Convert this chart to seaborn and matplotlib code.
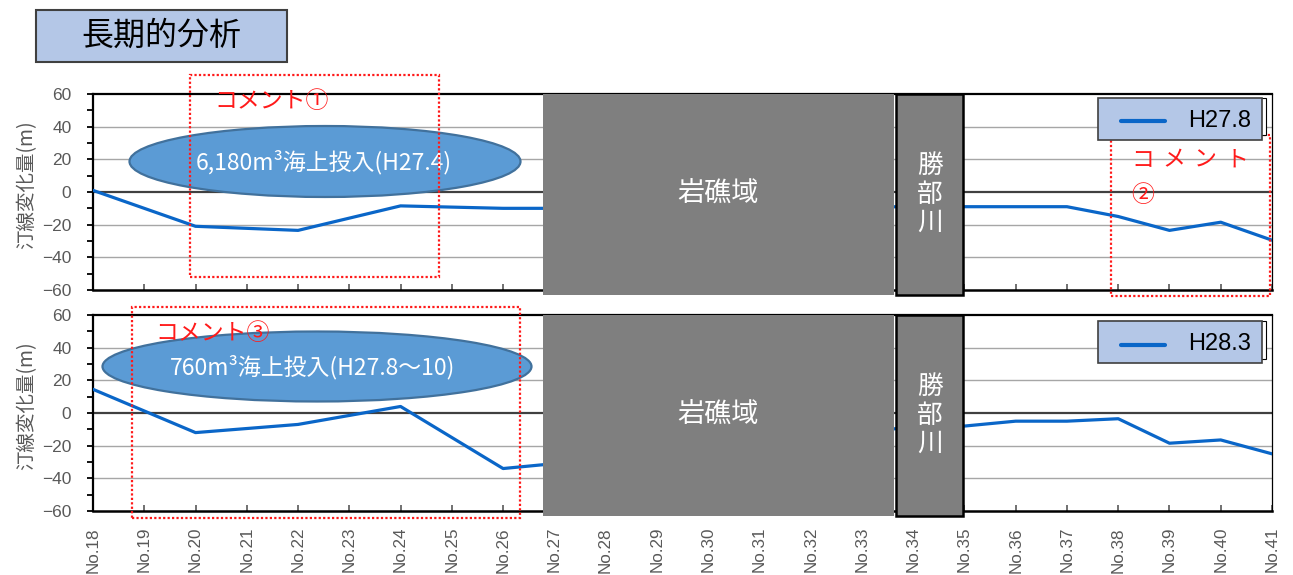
import matplotlib
matplotlib.use("Agg")
import matplotlib.pyplot as plt
import matplotlib.transforms as mtransforms
from matplotlib.patches import Rectangle, Ellipse
from matplotlib.lines import Line2D
from matplotlib.ticker import MultipleLocator
import seaborn as sns

# ---- data -------------------------------------------------------------
station_labels = ["No.18", "No.19", "No.20", "No.21", "No.22", "No.23", "No.24", "No.25",
                  "No.26", "No.27", "No.28", "No.29", "No.30", "No.31", "No.32", "No.33",
                  "No.34", "No.35", "No.36", "No.37", "No.38", "No.39", "No.40", "No.41"]
station_pos = list(range(18, 42))

survey_no = [18, 20, 22, 24, 26, 27, 34, 35, 36, 37, 38, 39, 40, 41]
h27_8 = [1.0, -21.0, -23.5, -8.5, -10.0, -10.0, -9.0, -9.0, -9.0, -9.0, -15.0, -23.5, -18.5, -29.5]
h28_3 = [14.5, -12.0, -7.0, 4.0, -34.0, -31.0, -8.5, -8.0, -5.0, -5.0, -3.5, -18.5, -16.5, -25.0]

series_names = ["H27.8", "H28.3"]
reef_zone = (26.78, 33.62)      # 岩礁域
river_zone = (33.67, 34.98)     # 勝部川

# ---- style --------------------------------------------------------------
sns.set_theme(style="white")
JP = ["Noto Sans CJK JP", "DejaVu Sans"]
plt.rcParams["font.family"] = ["Liberation Sans", "Noto Sans CJK JP", "DejaVu Sans"]

W, H = 1293, 575
fig = plt.figure(figsize=(W / 100, H / 100), dpi=100)
fig.patch.set_facecolor("white")

LINE_C = "#0a66c8"
GRAY_TXT = "#595959"
BOX_GRAY = "#7f7f7f"
LEG_FILL = "#b4c7e7"
ELL_FILL = "#5b9bd5"
ELL_EDGE = "#41719c"
RED = "#ff1a1a"


def fig_rect(x0, y0, x1, y1):
    return [x0 / W, 1 - y1 / H, (x1 - x0) / W, (y1 - y0) / H]


def add_box(x0, y0, x1, y1, **kw):
    r = Rectangle((x0 / W, 1 - y1 / H), (x1 - x0) / W, (y1 - y0) / H,
                  transform=fig.transFigure, **kw)
    fig.patches.append(r)
    return r


def add_ellipse(cx, cy, w, h):
    e = Ellipse((cx / W, 1 - cy / H), w / W, h / H, transform=fig.transFigure,
                facecolor=ELL_FILL, edgecolor=ELL_EDGE, linewidth=1.6, zorder=5)
    fig.patches.append(e)


def ftext(x, y, s, **kw):
    fig.text(x / W, 1 - y / H, s, **kw)


def panel(rect_px, values, show_xlabels):
    ax = fig.add_axes(fig_rect(*rect_px))
    ax.set_facecolor("white")
    sns.lineplot(x=survey_no, y=values, ax=ax, color=LINE_C, linewidth=2.3,
                 legend=False, zorder=3)
    ax.set_xlim(18, 41)
    ax.set_ylim(-60, 60)

    # grid and zero line
    for g in (-40, -20, 20, 40):
        ax.axhline(g, color="#a6a6a6", linewidth=1.0, zorder=1)
    ax.axhline(0, color="#404040", linewidth=1.6, zorder=2)

    # spines
    for side, lw in (("left", 1.6), ("bottom", 1.8), ("top", 1.6), ("right", 0.9)):
        ax.spines[side].set_visible(True)
        ax.spines[side].set_color("black")
        ax.spines[side].set_linewidth(lw)

    # y axis
    ax.yaxis.set_major_locator(MultipleLocator(20))
    ax.yaxis.set_minor_locator(MultipleLocator(10))
    ax.tick_params(axis="y", which="both", direction="out", length=4.5, width=1.3,
                   color="black", left=True, labelsize=12.5, labelcolor=GRAY_TXT, pad=11)
    ax.set_ylabel("汀線変化量(m)", fontsize=14, color=GRAY_TXT, family=JP)
    ax.yaxis.set_label_coords(-0.047, 0.535)

    # x axis
    ax.set_xticks(station_pos)
    ax.tick_params(axis="x", which="major", direction="in", length=4.5, width=1.2,
                   color="#595959", bottom=True, labelsize=12.3, labelcolor=GRAY_TXT,
                   pad=11.5)
    if show_xlabels:
        ax.set_xticklabels(station_labels, rotation=90)
    else:
        ax.set_xticklabels([])
    ax.set_xlabel("")

    # reef area and river blocks
    trans = mtransforms.blended_transform_factory(ax.transData, ax.transAxes)
    below = -5.0 / (rect_px[3] - rect_px[1])
    ax.add_patch(Rectangle((reef_zone[0], below), reef_zone[1] - reef_zone[0], 1 - below,
                           transform=trans, facecolor=BOX_GRAY, edgecolor="none",
                           clip_on=False, zorder=4))
    ax.add_patch(Rectangle((river_zone[0], below), river_zone[1] - river_zone[0], 1 - below,
                           transform=trans, facecolor=BOX_GRAY, edgecolor="black",
                           linewidth=1.8, clip_on=False, zorder=4))
    ax.text(sum(reef_zone) / 2, 0.5 + below / 2, "岩礁域", transform=trans,
            ha="center", va="center", color="white", fontsize=19.5, family=JP, zorder=5)
    mid = 0.5 + below / 2
    step = 28.5 / (rect_px[3] - rect_px[1])
    for i, ch in enumerate("勝部川"):
        ax.text(sum(river_zone) / 2, mid + (1 - i) * step, ch, transform=trans,
                ha="center", va="center", color="white", fontsize=18.5, family=JP, zorder=5)
    return ax


ax_top = panel((93, 94, 1272, 290), h27_8, False)
ax_bot = panel((93, 315, 1272, 511), h28_3, True)

# ---- title box ------------------------------------------------------------
add_box(36, 9.5, 287, 61.5, facecolor=LEG_FILL, edgecolor="#404040", linewidth=1.5, zorder=5)
ftext(161.5, 36, "長期的分析", ha="center", va="center", fontsize=23, family=JP,
      color="black", zorder=6)

# ---- ellipses with sand placement notes --------------------------------------
add_ellipse(325, 161.5, 391, 71)
ftext(324, 162, "6,180m³海上投入(H27.4)", ha="center", va="center", fontsize=16.5,
      family=JP, color="white", zorder=6)
add_ellipse(317, 366.5, 429, 70)
ftext(313, 367, "760m³海上投入(H27.8～10)", ha="center", va="center", fontsize=16.5,
      family=JP, color="white", zorder=6)

# ---- comment frames --------------------------------------------------------
dot = dict(facecolor="none", edgecolor=RED, linewidth=1.6, linestyle=(0, (1, 1)), zorder=7)
add_box(190, 75, 438.5, 277, **dot)
add_box(1110.5, 135, 1270, 296, **dot)
add_box(131.5, 306.5, 520, 518, **dot)

ftext(272, 102, "コメント①", ha="center", va="center", fontsize=16.5, family=JP,
      color=RED, zorder=8)
ftext(213, 333, "コメント③", ha="center", va="center", fontsize=16.5, family=JP,
      color=RED, zorder=8)
for i, ch in enumerate("コメント"):
    ftext(1143 + i * 31.3, 160, ch, ha="center", va="center", fontsize=16.5, family=JP,
          color=RED, zorder=8)
ftext(1143, 195, "②", ha="center", va="center", fontsize=16.5, family=JP, color=RED, zorder=8)

# ---- legends ---------------------------------------------------------------
for name, top in zip(series_names, (97.5, 321)):
    add_box(1100, top, 1266, top + 37.5, facecolor="white", edgecolor="black",
            linewidth=0.8, zorder=9)
    add_box(1097.5, top, 1262, top + 42, facecolor=LEG_FILL, edgecolor="#404040",
            linewidth=1.2, zorder=10)
    cy = top + 23.5
    fig.lines.append(Line2D([1121 / W, 1165 / W], [1 - cy / H, 1 - cy / H],
                            transform=fig.transFigure, color=LINE_C, linewidth=3.0,
                            zorder=11))
    ftext(1188, cy, name, ha="left", va="center", fontsize=17, color="black", zorder=11)

fig.savefig("out.png", dpi=100, facecolor="white")
